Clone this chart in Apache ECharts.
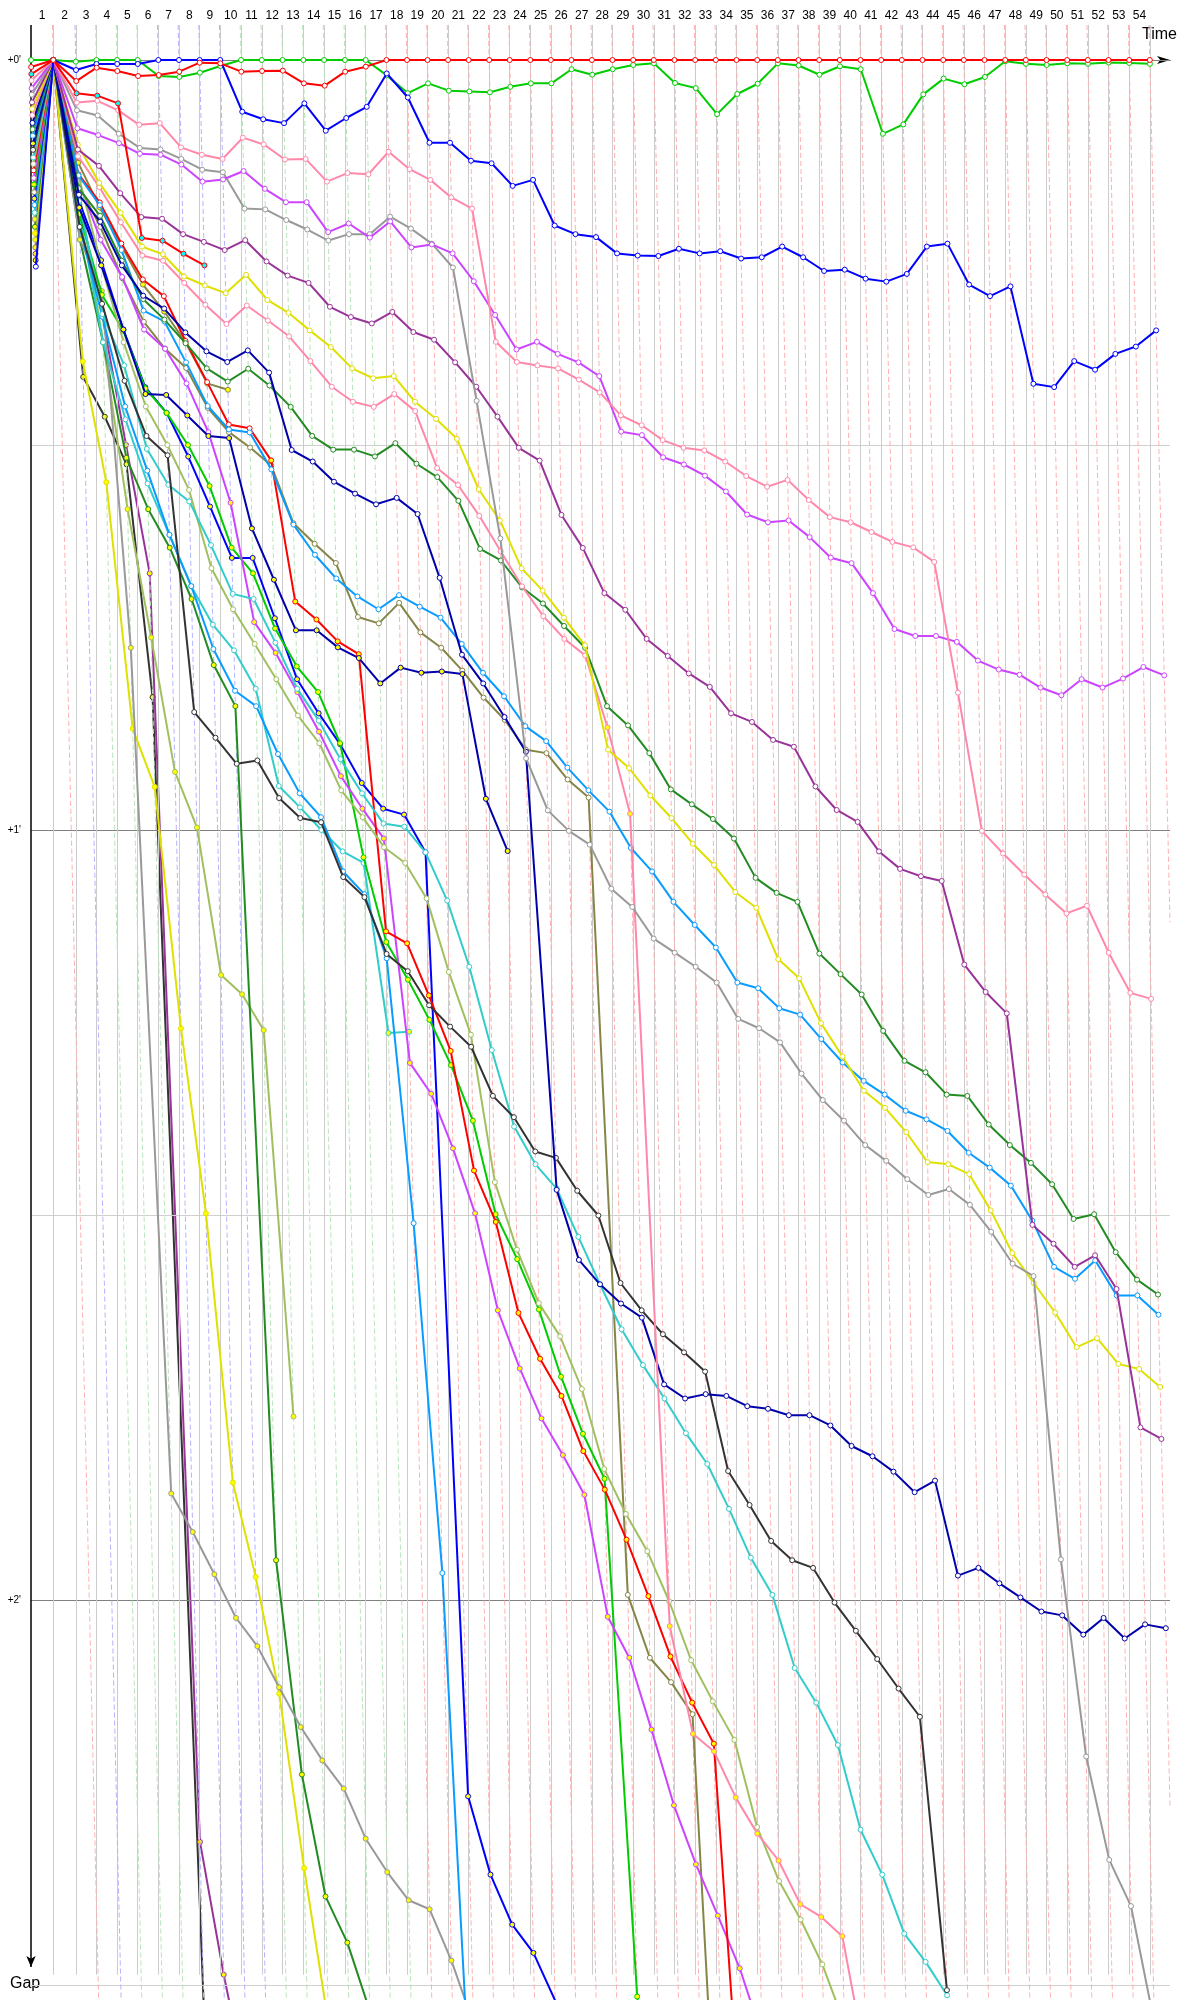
<!DOCTYPE html>
<html><head><meta charset="utf-8">
<script src="https://cdn.jsdelivr.net/npm/echarts@6/dist/echarts.min.js"></script>
<style>html,body{margin:0;padding:0;background:#fff}#c{width:1200px;height:2000px}</style>
</head><body><div id="c"></div>
<script>
// Leader lap durations (s), laps 1..54
const lapTimes = [74.3, 75.0,
  68.8, 68.8, 68.8, 68.8, 68.8, 68.8, 68.8,
  69.25, 69.25, 69.25, 69.25, 69.25, 69.25, 69.25, 69.25,
  68.5, 68.5, 68.5, 68.5, 68.5, 68.5, 68.5, 68.5, 68.5, 68.5, 68.5,
  68.9, 68.9, 68.9, 68.9, 68.9, 68.9, 68.9, 68.9, 68.9, 68.9, 68.9, 68.9, 68.9,
  68.9, 68.9, 68.9, 68.9, 68.9, 68.9, 68.9, 68.9, 68.9, 68.9, 68.9, 68.9, 68.9];
// Track status per lap 1..54
const lapFlags = ['R','B','G','G','G','B','B','B','B','G','G','G','G','G','G','G',
  'R','R','R','R','R','R','R','R','R','R','R','R','R','R','R','R','R','R','R','R','R','R','R',
  'R','R','R','R','R','R','R','R','R','R','R','R','R','R','R','R'];
const lapLabels = ['1','2','3','4','5','6','7','8','9','10','11','12','13','14','15','16','17','18','19','20',
  '21','22','23','24','25','26','27','28','29','30','31','32','33','34','35','36','37','38','39','40',
  '41','42','43','44','45','46','47','48','49','50','51','52','53','54'];
const gapTicks = [0, 60, 120];
const gapTickLabels = ["+0'", "+1'", "+2'"];

// Gaps (s) to the leader, index = lap (0 = grid)
const gapRedLeader = [0.55, 0, 1.64, 0.6, 0.86, 1.25, 1.17, 0.91, 0.21, 0.26, 0.91, 0.86, 0.83, 1.82, 2.0, 0.91, 0.52, 0,
  0,0,0,0,0,0,0,0,0,0, 0,0,0,0,0,0,0,0,0,0, 0,0,0,0,0,0,0,0,0,0, 0,0,0,0,0,0,0];
const gapGreen = [0, 0, 0.13, 0, 0, 0, 1.25, 1.32, 0.99, 0.47, 0, 0, 0, 0, 0, 0, 0, 1.2,
  2.58, 1.82, 2.39, 2.45, 2.52, 2.09, 1.82, 1.82, 0.72, 1.15, 0.72, 0.39, 0.26, 1.79, 2.19, 4.22, 2.65, 1.85, 0.26, 0.43,
  1.15, 0.49, 0.72, 5.75, 5.02, 2.68, 1.45, 1.89, 1.32, 0.1, 0.3, 0.39, 0.26, 0.3, 0.2, 0.23, 0.3];
const gapBlue = [16.1, 0, 0.78, 0.31, 0.31, 0.31, 0, 0, 0, 0, 4.03, 4.62, 4.92, 3.38, 5.51, 4.52, 3.65, 1.05, 2.92, 6.45,
  6.45, 7.85, 8.05, 9.81, 9.34, 12.9, 13.57, 13.8, 15.07, 15.24, 15.27, 14.71, 15.07, 14.9, 15.47, 15.37, 14.54, 15.37, 16.44, 16.34,
  17.04, 17.27, 16.67, 14.54, 14.31, 17.5, 18.4, 17.64, 25.23, 25.49, 23.46, 24.13, 22.9, 22.33, 21.07];
const gapRedCyan = [1.1, 0, 2.6, 2.78, 3.38, 13.87, 14.08, 15.1, 16.0];
const gapPinkA = [1.6, 0, 3.32, 3.18, 3.92, 5.05, 4.92, 6.81, 7.38, 7.71, 6.05, 6.58, 7.75, 7.71, 9.48, 8.81, 8.91, 7.15, 8.51, 9.34,
  10.71, 11.58, 21.96, 23.53, 23.8, 24.03, 24.9, 25.9, 27.69, 28.46, 29.62, 30.22, 30.42, 31.29, 32.42, 33.25, 32.72, 34.29, 35.62, 36.02,
  36.78, 37.55, 37.98, 39.11, 49.3, 60.07, 61.83, 63.47, 65.03, 66.5, 65.9, 69.56, 72.69, 73.16];
const gapVioletA = [2.2, 0, 5.32, 5.85, 6.48, 7.31, 7.38, 8.15, 9.48, 9.31, 8.65, 10.04, 11.08, 11.08, 13.41, 12.74, 13.84, 12.58, 14.61, 14.37,
  15.07, 17.24, 19.87, 22.56, 21.96, 22.9, 23.56, 24.63, 28.96, 29.23, 30.96, 31.52, 32.39, 33.62, 35.42, 36.02, 35.88, 37.18, 38.78, 39.21,
  41.54, 44.34, 44.88, 44.88, 45.34, 46.8, 47.5, 47.9, 48.9, 49.5, 48.25, 48.9, 48.2, 47.3, 47.95];
const gapGreyA = [2.7, 0, 3.92, 4.32, 5.75, 6.85, 6.98, 7.71, 8.55, 8.75, 11.58, 11.64, 12.47, 13.21, 14.07, 13.57, 13.57, 12.21, 13.14, 14.31,
  16.17, 26.56, 37.28, 54.41, 58.47, 60.07, 61.14, 64.57, 66.0, 68.46, 69.56, 70.66, 71.89, 74.72, 75.45, 76.55, 78.98, 81.05, 82.65, 84.55,
  85.78, 87.21, 88.44, 87.98, 89.21, 91.31, 93.8, 94.77, 116.84, 132.2, 140.25, 143.85, 153];
const gapPurpleA = [3.3, 0, 6.98, 8.25, 10.38, 12.24, 12.37, 13.57, 14.17, 14.81, 14.04, 15.7, 16.8, 17.37, 19.23, 20.03, 20.53, 19.63, 21.2, 21.8,
  23.56, 25.46, 27.79, 30.22, 31.22, 35.45, 38.02, 41.54, 42.84, 45.11, 46.44, 47.8, 48.85, 50.91, 51.58, 52.98, 53.51, 56.61, 58.44, 59.37,
  61.67, 63.03, 63.6, 63.97, 70.49, 72.62, 74.29, 90.77, 92.24, 94.04, 93.14, 95.77, 106.55, 107.45];
const gapYellowA = [3.8, 0, 6.6, 9.58, 11.91, 14.54, 15.14, 16.87, 17.57, 18.17, 16.74, 18.7, 19.7, 21.07, 22.37, 24.03, 24.8, 24.63, 26.63, 27.96,
  29.52, 33.45, 35.88, 39.61, 41.35, 43.45, 45.61, 53.74, 55.17, 57.31, 59.07, 61.07, 62.73, 64.83, 66.06, 70.06, 71.56, 75.05, 77.65, 80.32,
  81.65, 83.55, 85.88, 86.05, 86.81, 89.64, 92.97, 95.3, 97.6, 100.3, 99.6, 101.6, 102.0, 103.4];
const gapPinkB = [4.3, 0, 7.5, 9.91, 12.64, 15.24, 15.64, 17.37, 19.07, 20.57, 19.13, 20.3, 21.53, 23.46, 25.46, 26.63, 27.03, 26.03, 27.36, 31.79,
  33.12, 35.52, 38.28, 41.01, 43.34, 45.11, 46.4, 52.01, 58.74, 122.04, 130.43, 131.8, 135.4, 138.2, 140.3, 143.7, 144.7, 146.2, 156];
const gapNavyA = [4.9, 0, 10.5, 12.6, 16.0, 18.37, 19.37, 21.23, 22.7, 23.53, 22.63, 24.36, 30.39, 31.29, 32.86, 33.79, 34.62, 34.12, 35.38, 40.35,
  46.34, 48.58, 51.2, 53.9, 88.04, 93.5, 95.4, 96.9, 98.0, 103.2, 104.3, 103.96, 104.1, 104.9, 105.1, 105.6, 105.6, 106.4, 108.0, 108.8,
  110.0, 111.6, 110.7, 118.1, 117.5, 118.7, 119.8, 120.9, 121.2, 122.7, 121.4, 123.0, 121.9, 122.2];
const gapDkGreenA = [5.4, 0, 10.0, 12.14, 15.64, 18.64, 20.23, 22.07, 24.03, 25.06, 24.06, 25.36, 27.03, 29.29, 30.36, 30.36, 30.89, 29.86, 31.46, 32.5,
  34.35, 38.1, 39.0, 41.1, 42.35, 44.1, 45.8, 50.35, 51.85, 54.01, 56.84, 58.0, 59.14, 60.67, 63.73, 64.9, 65.6, 69.63, 71.23, 72.82,
  75.65, 77.99, 78.88, 80.62, 80.72, 82.95, 84.55, 85.94, 87.61, 90.31, 89.94, 92.9, 95.04, 96.2];
const gapSkyA = [5.9, 0, 9.0, 11.31, 14.81, 19.53, 20.37, 23.56, 26.96, 28.79, 29.02, 31.9, 36.2, 38.55, 40.4, 41.8, 42.8, 41.7, 42.6, 43.45,
  45.5, 47.75, 49.58, 51.91, 53.08, 55.14, 56.91, 58.57, 61.4, 63.23, 65.6, 67.4, 69.16, 71.89, 72.33, 73.89, 74.39, 76.29, 78.12, 79.55,
  80.62, 81.88, 82.55, 83.45, 85.15, 86.31, 87.71, 90.44, 94.04, 94.97, 93.54, 96.27, 96.27, 97.77];
const gapNavyB = [6.5, 0, 11.5, 16, 21, 26.03, 26.1, 27.7, 29.3, 29.46, 36.5, 40.5, 44.44, 44.44, 45.77, 46.6, 48.58, 47.35, 47.75, 47.65, 47.85, 57.57, 61.64];
const gapBlackA = [7.0, 0, 13, 19, 25, 29.3, 30.8, 50.81, 52.81, 54.84, 54.58, 57.51, 59.07, 59.4, 63.67, 65.23, 69.66, 71.0, 73.66, 75.32,
  76.89, 80.72, 82.38, 85.05, 85.55, 88.11, 90.04, 95.3, 97.43, 99.29, 100.7, 102.2, 109.95, 112.6, 115.4, 116.9, 117.5, 120.2, 122.4, 124.6,
  126.9, 129.1, 150.4];
const gapTealA = [7.6, 0, 11, 19.8, 23.8, 30.3, 33.1, 34.4, 37.8, 41.6, 42.0, 45.4, 49.0, 51.48, 54.48, 57.14, 59.5, 59.74, 61.74, 65.5,
  70.66, 77.15, 83.11, 86.05, 87.94, 91.7, 95.4, 98.9, 101.7, 104.3, 107.0, 109.4, 112.9, 116.7, 119.6, 125.3, 128.0, 131.3, 137.9, 141.4,
  146.0, 148.2, 150.8];
const gapLimeA = [8.1, 0, 9, 16, 22, 27, 30, 33.5, 39.6, 42.8, 45.5, 48.25, 51.08, 53.24, 56.91, 59.0, 61.34, 62.57, 65.33, 71.06,
  75.95, 87.44, 92.7, 96.87, 99.46, 103.56, 109.8, 113.3, 116.2, 120.1, 124.7, 127.9, 130.9, 137.7, 141.9, 144.9, 148.4, 153];
const gapRedB = [8.6, 0, 8.9, 11.1, 14.3, 17.1, 18.4, 21.9, 25.1, 28.4, 28.7, 31.2, 42.2, 43.6, 45.3, 46.3, 67.9, 68.83, 72.89, 77.22,
  86.54, 90.54, 97.63, 101.2, 104.1, 108.4, 111.4, 115.3, 119.7, 124.4, 128.0, 131.2, 166];
const gapVioletB = [9.2, 0, 9.5, 14, 16.9, 21.0, 22.5, 25.2, 29.0, 34.5, 43.8, 46.2, 49.25, 52.34, 55.8, 58.34, 60.67, 78.15, 80.55, 84.81,
  89.87, 97.43, 101.96, 105.85, 108.7, 111.8, 121.3, 124.5, 130.1, 136.0, 140.6, 144.6, 148.7, 154];
const gapGreenB = [9.7, 0, 12, 18.3, 21.1, 25.6, 27.5, 30.0, 33.2, 38.0, 40.0, 44.3, 47.25, 49.25, 53.24, 62.13, 68.73, 71.66, 74.79, 78.32,
  82.65, 89.94, 93.44, 97.37, 102.6, 107.05, 110.55, 150.9, 165];
const gapOliveA = [10.3, 0, 9.8, 13, 17, 20.4, 22.5, 24, 27.1, 29.0, 30.2, 31.6, 36.1, 37.7, 39.2, 43.4, 43.9, 42.3, 44.6, 45.8,
  47.58, 49.68, 51.41, 53.74, 54.01, 56.07, 57.47, 119.6, 124.5, 126.4, 128.9, 181];
const gapBlueB = [10.8, 0, 11, 15.6, 21, 25.5, 27.5, 30.9, 34.8, 38.8, 38.8, 43.5, 48.25, 50.9, 53.31, 56.34, 58.34, 58.8, 61.74, 135.3,
  141.4, 145.3, 147.5, 151.2, 158];
const gapSkyB = [11.3, 0, 13, 20, 27, 32, 37, 41, 45.9, 49.15, 50.35, 54.08, 57.14, 59.0, 63.23, 65.0, 70.0, 90.64, 117.9, 172];
const gapTealB = [11.9, 0, 12, 22, 28, 33, 37, 41, 44, 46, 49, 56.57, 58.24, 60.0, 61.67, 62.57, 75.82, 75.72];
const gapGreyB = [12.4, 0, 14, 18, 45.8, 111.7, 114.7, 118.0, 121.4, 123.6, 126.8, 129.9, 132.5, 134.7, 138.6, 141.2, 143.4, 144.1, 148.1, 153];
const gapDkGreenB = [13.0, 0, 14, 22, 31, 35, 38, 42, 47.15, 50.35, 116.9, 133.6, 143.1, 146.7, 152];
const gapYellowB = [13.5, 0, 23.5, 32.9, 52.1, 56.64, 75.46, 89.87, 110.85, 118.2, 127.3, 140.9, 153];
const gapLimeB = [14.0, 0, 10, 22, 35, 45, 55.47, 59.8, 71.3, 72.8, 75.6, 105.7];
const gapOliveB = [14.6, 0, 8, 11.5, 14.5, 17.5, 19.6, 22.0, 25.2, 25.7];
const gapPurpleB = [15.1, 0, 11, 20, 30, 40, 138.85, 149.2, 158];
const gapBlackB = [15.6, 0, 24.7, 27.8, 31.5, 49.65, 152];

// ---- styling (kept apart from data) ----
const FILL = {w: '#ffffff', y: '#ffff00', c: '#00ffff'};
const drivers = [
  {g: gapBlackB,   c: '#333333', f: 'y'},
  {g: gapPurpleB,  c: '#993399', f: 'y'},
  {g: gapOliveB,   c: '#858548', f: 'y'},
  {g: gapLimeB,    c: '#a0c060', f: 'y'},
  {g: gapYellowB,  c: '#e0e000', f: 'y'},
  {g: gapDkGreenB, c: '#228b22', f: 'y'},
  {g: gapGreyB,    c: '#999999', f: 'y'},
  {g: gapTealB,    c: '#33cccc', f: 'w', yFrom: 16},
  {g: gapSkyB,     c: '#0a9bff', f: 'w'},
  {g: gapBlueB,    c: '#0000ff', f: 'y'},
  {g: gapOliveA,   c: '#858548', f: 'w'},
  {g: gapGreenB,   c: '#00cc00', f: 'y'},
  {g: gapVioletB,  c: '#cc44ff', f: 'w', yFrom: 9},
  {g: gapRedB,     c: '#ff0000', f: 'w', yFrom: 11},
  {g: gapLimeA,    c: '#a0c060', f: 'w'},
  {g: gapTealA,    c: '#33cccc', f: 'w'},
  {g: gapBlackA,   c: '#333333', f: 'w'},
  {g: gapNavyB,    c: '#0000aa', f: 'y'},
  {g: gapSkyA,     c: '#0a9bff', f: 'w'},
  {g: gapDkGreenA, c: '#228b22', f: 'w'},
  {g: gapNavyA,    c: '#0000aa', f: 'w'},
  {g: gapPinkB,    c: '#ff88aa', f: 'w', yFrom: 27},
  {g: gapYellowA,  c: '#e0e000', f: 'w'},
  {g: gapPurpleA,  c: '#993399', f: 'w'},
  {g: gapGreyA,    c: '#999999', f: 'w'},
  {g: gapVioletA,  c: '#cc44ff', f: 'w'},
  {g: gapPinkA,    c: '#ff88aa', f: 'w'},
  {g: gapRedCyan,  c: '#ff0000', f: 'c'},
  {g: gapGreen,    c: '#00cc00', f: 'w'},
  {g: gapBlue,     c: '#0000ff', f: 'w'},
  {g: gapRedLeader,c: '#ff0000', f: 'w'}
];

const T = [0];
lapTimes.forEach(d => T.push(T[T.length - 1] + d));
const YMIN = -2.727, YMAX = 151.17, XMAX = 3797;
const FLAGCOL = {R: '#ffb0b0', G: '#b8e6b8', B: '#b4b4ff'};

const mids = [];
for (let n = 1; n < T.length; n++) mids.push((T[n - 1] + T[n]) / 2);
function lapLabelFor(v) {
  let best = 0, bd = Infinity;
  mids.forEach((m, i) => { const d = Math.abs(m - v); if (d < bd) { bd = d; best = i; } });
  return lapLabels[best];
}

const mlData = [];
[[0,'#808080'],[30,'#d0d0d0'],[60,'#808080'],[90,'#d0d0d0'],[120,'#808080'],[150,'#d0d0d0']].forEach(([v, col]) => {
  mlData.push({yAxis: v, lineStyle: {color: col, width: 1, type: 'solid'}});
});
for (let n = 1; n < T.length; n++) {
  const ls = {color: '#cccccc', width: 1, type: 'solid'};
  mlData.push([{coord: [T[n], YMIN], lineStyle: ls}, {coord: [T[n], 149.2], lineStyle: ls}]);
}
for (let n = 1; n < T.length; n++) {
  const gEnd = Math.min(YMAX, XMAX - T[n]);
  const ls = {color: FLAGCOL[lapFlags[n - 1]], width: 1, type: [5, 3]};
  mlData.push([{coord: [T[n] + YMIN, YMIN], lineStyle: ls}, {coord: [T[n] + gEnd, gEnd], lineStyle: ls}]);
}
mlData.push([{coord: [0, YMIN], symbol: 'none', lineStyle: {color: '#000', width: 1.5, type: 'solid'}},
             {coord: [0, 148.6], symbol: 'arrow', symbolSize: [7, 11], lineStyle: {color: '#000', width: 1.5, type: 'solid'}}]);

const series = [{
  type: 'line', data: [[0, 0]], showSymbol: false, lineStyle: {width: 0}, silent: true, z: 1,
  markLine: {silent: true, symbol: ['none', 'none'], label: {show: false}, animation: false, data: mlData}
}];

drivers.forEach((d, i) => {
  series.push({
    type: 'line', z: 3 + i, silent: true, animation: false,
    symbol: 'circle', symbolSize: 5, showSymbol: true, showAllSymbol: true,
    lineStyle: {color: d.c, width: 2},
    itemStyle: {color: FILL[d.f], borderColor: d.c, borderWidth: 1},
    emphasis: {disabled: true},
    data: d.g.map((g, lap) => {
      const fill = (d.yFrom !== undefined && lap >= d.yFrom) ? FILL.y : FILL[d.f];
      return {value: [T[lap] + g, g], itemStyle: {color: fill, borderColor: d.c, borderWidth: 1}};
    })
  });
});

const chart = echarts.init(document.getElementById('c'), null, {renderer: 'canvas'});
chart.setOption({
  animation: false,
  backgroundColor: '#ffffff',
  grid: {left: 31, right: 30, top: 25, bottom: 0, containLabel: false},
  xAxis: {
    type: 'value', position: 'top', min: 0, max: XMAX,
    axisLine: {show: true, symbol: ['none', 'arrow'], symbolSize: [6, 13], lineStyle: {color: '#000', width: 1}},
    axisTick: {show: false}, splitLine: {show: false},
    axisLabel: {customValues: mids, formatter: v => lapLabelFor(v), margin: 3,
      fontSize: 12, fontFamily: 'Liberation Sans', color: '#000'}
  },
  yAxis: {
    type: 'value', inverse: true, min: YMIN, max: YMAX,
    axisLine: {show: false}, axisTick: {show: false}, splitLine: {show: false},
    axisLabel: {customValues: gapTicks, formatter: v => gapTickLabels[gapTicks.indexOf(Math.round(v))] || '',
      margin: 10, fontSize: 10, fontFamily: 'Liberation Sans', color: '#000'}
  },
  graphic: [
    {type: 'text', right: 23, top: 27, style: {text: 'Time', font: '16px "Liberation Sans"', fill: '#000'}},
    {type: 'text', left: 10, top: 1976, style: {text: 'Gap', font: '16px "Liberation Sans"', fill: '#000'}}
  ],
  series: series
});
</script>
</body></html>
